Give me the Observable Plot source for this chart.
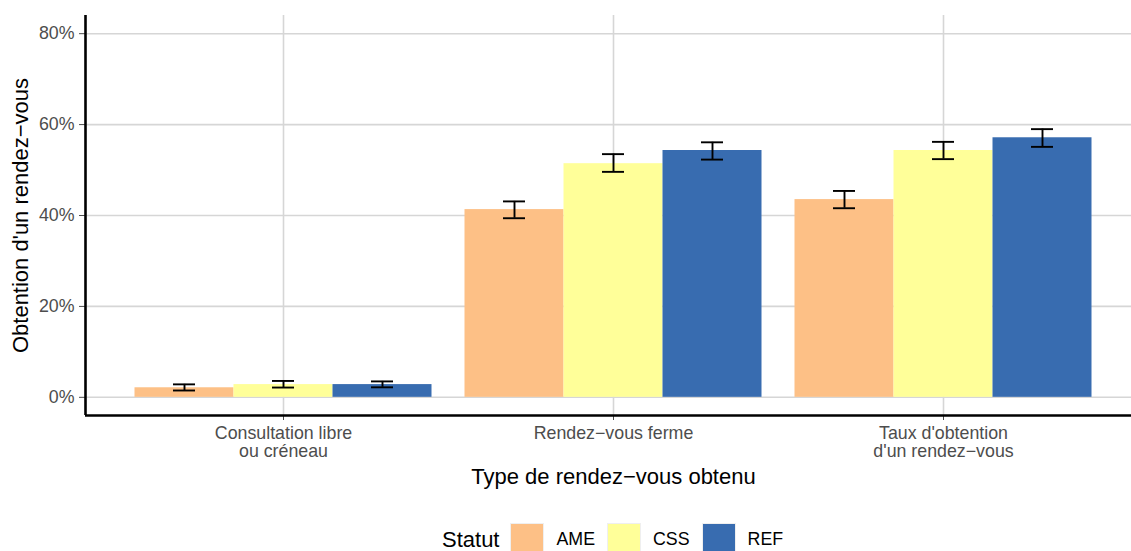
<!DOCTYPE html>
<html><head><meta charset="utf-8">
<script src="https://cdn.jsdelivr.net/npm/d3@7"></script>
<script src="https://cdn.jsdelivr.net/npm/@observablehq/plot@0.6"></script>
<style>
body{margin:0;background:#fff;font-family:"Liberation Sans",Arial,sans-serif;}
#legend{position:relative;height:46px;overflow:hidden;width:1131px;}
#legend .row{display:flex;align-items:center;margin-top:17.5px;padding-left:442px;}
#legend .title{font-size:22px;color:#000;margin-right:11px;}
#legend .key{width:34px;height:34px;box-sizing:border-box;border:1px solid #efefef;}
#legend .lab{font-size:17.8px;color:#000;margin-left:12px;margin-right:12px;}
</style></head><body><div id="chart"></div><div id="legend"></div>
<script>
const categories = ["Consultation libre\nou créneau", "Rendez\u2212vous ferme", "Taux d'obtention\nd'un rendez\u2212vous"];
const statuts = ["AME", "CSS", "REF"];
const colors = ["#fdc086", "#ffff99", "#386cb0"];
const ameValues = [2.1, 41.3, 43.5];
const cssValues = [2.8, 51.4, 54.3];
const refValues = [2.8, 54.3, 57.1];
const ameLow = [1.5, 39.4, 41.6];
const ameHigh = [2.85, 43.1, 45.4];
const cssLow = [2.15, 49.6, 52.4];
const cssHigh = [3.6, 53.5, 56.2];
const refLow = [2.2, 52.3, 55.1];
const refHigh = [3.5, 56.1, 59.0];
const yTicks = [0, 20, 40, 60, 80];
const yDomain = [-4, 84];
const xDomain = [-0.6, 2.6];
const xTitle = "Type de rendez\u2212vous obtenu";
const yTitle = "Obtention d'un rendez\u2212vous";
const legendTitle = "Statut";

const values = [ameValues, cssValues, refValues];
const lows = [ameLow, cssLow, refLow];
const highs = [ameHigh, cssHigh, refHigh];
const rows = [];
statuts.forEach((s, j) => categories.forEach((c, i) => rows.push({
  category: c, i, statut: s, j, value: values[j][i], low: lows[j][i], high: highs[j][i]
})));
const groupWidth = 0.9, barW = groupWidth / statuts.length, capHalf = 0.2 / statuts.length / 2;
const left = d => d.i - groupWidth / 2 + d.j * barW;
const center = d => left(d) + barW / 2;
const font = "'Liberation Sans', Arial, sans-serif";

const chart = Plot.plot({
  width: 1131, height: 505,
  marginTop: 15, marginBottom: 90, marginLeft: 85, marginRight: 0,
  style: {fontFamily: font, fontSize: "17.8px", color: "#4d4d4d", background: "white"},
  x: {type: "linear", domain: xDomain, range: [85, 1141], ticks: [0, 1, 2], tickFormat: i => categories[i], tickSize: 5, tickPadding: 6, label: null},
  y: {domain: yDomain, ticks: yTicks, tickFormat: d => d + "%", tickSize: 6, tickPadding: 5, label: null},
  color: {domain: statuts, range: colors},
  marks: [
    Plot.ruleY(yTicks, {stroke: "#d6d6d6", strokeWidth: 1.6}),
    Plot.ruleX([0, 1, 2], {stroke: "#d6d6d6", strokeWidth: 1.6}),
    Plot.rect(rows, {x1: left, x2: d => left(d) + barW, y1: 0, y2: "value", fill: "statut"}),
    Plot.ruleX(rows, {x: center, y1: "low", y2: "high", stroke: "black", strokeWidth: 1.9}),
    Plot.ruleY(rows, {y: "high", x1: d => center(d) - capHalf, x2: d => center(d) + capHalf, stroke: "black", strokeWidth: 1.9}),
    Plot.ruleY(rows, {y: "low", x1: d => center(d) - capHalf, x2: d => center(d) + capHalf, stroke: "black", strokeWidth: 1.9}),
    Plot.ruleX([xDomain[0]], {stroke: "black", strokeWidth: 2.6}),
    Plot.ruleY([yDomain[0]], {stroke: "black", strokeWidth: 2.6}),
    Plot.text([xTitle], {frameAnchor: "bottom", textAnchor: "middle", lineAnchor: "middle", dx: 5, dy: 61, fontSize: 22, fill: "black"}),
    Plot.text([yTitle], {frameAnchor: "left", textAnchor: "middle", lineAnchor: "middle", rotate: -90, dx: -65, fontSize: 22, fill: "black"})
  ]
});
document.getElementById("chart").appendChild(chart);

const leg = document.getElementById("legend");
const row = document.createElement("div");
row.className = "row";
const t = document.createElement("span");
t.className = "title"; t.textContent = legendTitle;
row.appendChild(t);
statuts.forEach((s, j) => {
  const k = document.createElement("span");
  k.className = "key"; k.style.background = colors[j];
  const l = document.createElement("span");
  l.className = "lab"; l.textContent = s;
  row.appendChild(k); row.appendChild(l);
});
leg.appendChild(row);
</script></body></html>
